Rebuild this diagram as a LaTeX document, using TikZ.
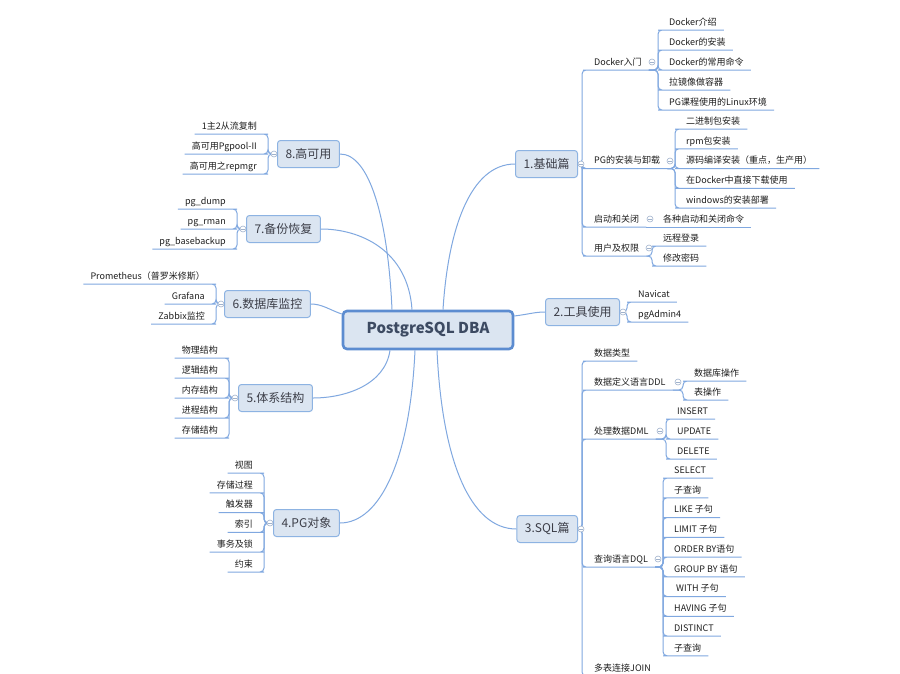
\documentclass[tikz,border=0pt]{standalone}
\usepackage{fontspec}
\setmainfont{Noto Sans CJK SC}

\definecolor{lineblue}{RGB}{128,168,224}
\definecolor{topicblue}{RGB}{141,179,226}
\definecolor{rootblue}{RGB}{92,140,208}
\definecolor{boxfill}{RGB}{219,229,241}
\definecolor{rootink}{RGB}{60,74,98}
\definecolor{topicink}{RGB}{60,62,72}
\definecolor{leafink}{RGB}{30,30,30}
\definecolor{foldgray}{RGB}{160,178,204}

\begin{document}
\begin{tikzpicture}[
    x=1pt, y=-1pt,
    root/.style={rectangle, draw=rootblue, line width=2.6pt, rounded corners=4pt,
                 fill=boxfill, minimum width=170pt, minimum height=38pt,
                 text=rootink, font=\fontsize{15}{18}\selectfont\bfseries},
    topic/.style={rectangle, draw=topicblue, line width=1pt, rounded corners=3pt,
                  fill=boxfill, minimum height=27pt, inner xsep=8pt,
                  text=topicink, font=\fontsize{12}{14}\selectfont},
    leaf/.style={inner xsep=7pt, inner ysep=2pt, text height=7pt, text depth=2.5pt,
                 text=leafink, font=\fontsize{9}{11}\selectfont},
    leaf r/.style={leaf, anchor=south west},
    leaf l/.style={leaf, anchor=south east},
    link/.style={draw=lineblue, line width=1pt},
    branch/.style={link, rounded corners=4pt},
    fold/.style={circle, draw=foldgray, fill=white, line width=0.6pt,
                 minimum size=6pt, inner sep=0pt,
                 path picture={\draw[foldgray, line width=0.6pt]
                   ([xshift=-1.7pt]path picture bounding box.center) --
                   ([xshift=1.7pt]path picture bounding box.center);}},
]
    \useasboundingbox (0,0) rectangle (900,673);
    \clip (0,0) rectangle (900,673);
    \fill[white] (0,0) rectangle (900,673);

    \node[root] (root) at (428,330) {PostgreSQL DBA};

    % first level
    \node[topic, anchor=east] (basic)   at (578,164) {1.基础篇};
    \node[topic, anchor=east] (tools)   at (620,312) {2.工具使用};
    \node[topic, anchor=east] (sql)     at (578,529) {3.SQL篇};
    \node[topic, anchor=west] (objects) at (273,523) {4.PG对象};
    \node[topic, anchor=west] (arch)    at (238,398) {5.体系结构};
    \node[topic, anchor=west] (monitor) at (224,304) {6.数据库监控};
    \node[topic, anchor=west] (backup)  at (246,229) {7.备份恢复};
    \node[topic, anchor=west] (ha)      at (277,154) {8.高可用};

    \draw[link] ([xshift=15pt]root.north) .. controls (448,230) and (470,164) .. (basic.west);
    \draw[link] ([yshift=14pt]root.east) .. controls (530,314) and (535,312) .. (tools.west);
    \draw[link] ([xshift=9pt]root.south) .. controls (442,460) and (470,529) .. (sql.west);
    \draw[link] ([xshift=-13pt]root.south) .. controls (410,460) and (380,523) .. (objects.east);
    \draw[link] ([xshift=-38pt]root.south) .. controls (385,385) and (345,398) .. (arch.east);
    \draw[link] ([yshift=16pt]root.west) .. controls (330,310) and (322,304) .. (monitor.east);
    \draw[link] ([xshift=-16pt]root.north) .. controls (408,250) and (360,229) .. (backup.east);
    \draw[link] ([xshift=-36pt]root.north) .. controls (388,220) and (370,154) .. (ha.east);

    % 1.基础篇
    \node[leaf r] (docker)    at (587,70)    {Docker入门};
    \node[leaf r] (pginstall) at (587,168.5) {PG的安装与卸载};
    \node[leaf r] (startstop) at (587,227)   {启动和关闭};
    \node[leaf r] (users)     at (587,256)   {用户及权限};
    \foreach \hub in {docker, pginstall, startstop, users}
      \draw[branch] (basic.east) -- (582,164) |- (\hub.south west) -- (\hub.south east);

    \foreach \txt [count=\i] in {Docker介绍, Docker的安装, Docker的常用命令, 拉镜像做容器,
                                 PG课程使用的Linux环境}
    {
      \node[leaf r] (docker-\i) at (662,{10+20*\i}) {\txt};
      \draw[branch] (docker.south east) -- (658,70) |- (docker-\i.south west) -- (docker-\i.south east);
    }
    \foreach \txt [count=\i] in {二进制包安装, rpm包安装, 源码编译安装（重点，生产用）,
                                 在Docker中直接下载使用, windows的安装部署}
    {
      \node[leaf r] (pginstall-\i) at (679,{109.25+19.75*\i}) {\txt};
      \draw[branch] (pginstall.south east) -- (675,168.5) |- (pginstall-\i.south west) -- (pginstall-\i.south east);
    }
    \node[leaf r] (startstop-1) at (656,227) {各种启动和关闭命令};
    \draw[link] (startstop.south east) -- (startstop-1.south east);
    \foreach \txt [count=\i] in {远程登录, 修改密码}
    {
      \node[leaf r] (users-\i) at (656,{226+20*\i}) {\txt};
      \draw[branch] (users.south east) -- (652,256) |- (users-\i.south west) -- (users-\i.south east);
    }

    % 2.工具使用
    \foreach \txt [count=\i] in {Navicat, pgAdmin4}
    {
      \node[leaf r] (tools-\i) at (631,{282+20*\i}) {\txt};
      \draw[branch] (tools.east) -- (627,312) |- (tools-\i.south west) -- (tools-\i.south east);
    }

    % 3.SQL篇
    \node[leaf r] (types) at (587,361) {数据类型};
    \node[leaf r] (ddl)   at (587,390) {数据定义语言DDL};
    \node[leaf r] (dml)   at (587,439) {处理数据DML};
    \node[leaf r] (dql)   at (587,567) {查询语言DQL};
    \node[leaf r] (join)  at (587,676) {多表连接JOIN};
    \foreach \hub in {types, ddl, dml, dql, join}
      \draw[branch] (sql.east) -- (582,529) |- (\hub.south west) -- (\hub.south east);

    \foreach \txt/\y [count=\i] in {数据库操作/381, 表操作/400}
    {
      \node[leaf r] (ddl-\i) at (687,\y) {\txt};
      \draw[branch] (ddl.south east) -- (683,390) |- (ddl-\i.south west) -- (ddl-\i.south east);
    }
    \foreach \txt [count=\i] in {INSERT, UPDATE, DELETE}
    {
      \node[leaf r] (dml-\i) at (670,{399+20*\i}) {\txt};
      \draw[branch] (dml.south east) -- (666,439) |- (dml-\i.south west) -- (dml-\i.south east);
    }
    \foreach \txt [count=\i] in {SELECT, 子查询, LIKE 子句, LIMIT 子句, ORDER BY语句,
                                 GROUP BY 语句, {\ WITH 子句}, HAVING 子句, DISTINCT, 子查询}
    {
      \node[leaf r] (dql-\i) at (667,{458.25+19.75*\i}) {\txt};
      \draw[branch] (dql.south east) -- (663,567) |- (dql-\i.south west) -- (dql-\i.south east);
    }

    % 4.PG对象
    \foreach \txt [count=\i] in {视图, 存储过程, 触发器, 索引, 事务及锁, 约束}
    {
      \node[leaf l] (objects-\i) at (260,{453.2+19.8*\i}) {\txt};
      \draw[branch] (objects.west) -- (264,523) |- (objects-\i.south east) -- (objects-\i.south west);
    }

    % 5.体系结构
    \foreach \txt [count=\i] in {物理结构, 逻辑结构, 内存结构, 进程结构, 存储结构}
    {
      \node[leaf l] (arch-\i) at (225,{338+20*\i}) {\txt};
      \draw[branch] (arch.west) -- (229,398) |- (arch-\i.south east) -- (arch-\i.south west);
    }

    % 6.数据库监控
    \foreach \txt [count=\i] in {Prometheus（普罗米修斯）, Grafana, Zabbix监控}
    {
      \node[leaf l] (monitor-\i) at (212,{264+20*\i}) {\txt};
      \draw[branch] (monitor.west) -- (216,304) |- (monitor-\i.south east) -- (monitor-\i.south west);
    }

    % 7.备份恢复
    \foreach \txt [count=\i] in {pg\_dump, pg\_rman, pg\_basebackup}
    {
      \node[leaf l] (backup-\i) at (233,{189+20*\i}) {\txt};
      \draw[branch] (backup.west) -- (237,229) |- (backup-\i.south east) -- (backup-\i.south west);
    }

    % 8.高可用
    \foreach \txt [count=\i] in {1主2从流复制, 高可用Pgpool-II, 高可用之repmgr}
    {
      \node[leaf l] (ha-\i) at (264,{114+20*\i}) {\txt};
      \draw[branch] (ha.west) -- (268,154) |- (ha-\i.south east) -- (ha-\i.south west);
    }

    % fold markers
    \foreach \topic in {basic, tools, sql}
      \node[fold] (\topic-fold) at ([xshift=3pt]\topic.east) {};
    \foreach \topic in {objects, arch, monitor, backup, ha}
      \node[fold] (\topic-fold) at ([xshift=-3pt]\topic.west) {};
    \foreach \hub/\x/\y in {docker/652/62, pginstall/670/161, startstop/650/219,
                            users/649/248, ddl/678/382, dml/660/431, dql/658/559}
      \node[fold] (\hub-fold) at (\x,\y) {};
\end{tikzpicture}
\end{document}
